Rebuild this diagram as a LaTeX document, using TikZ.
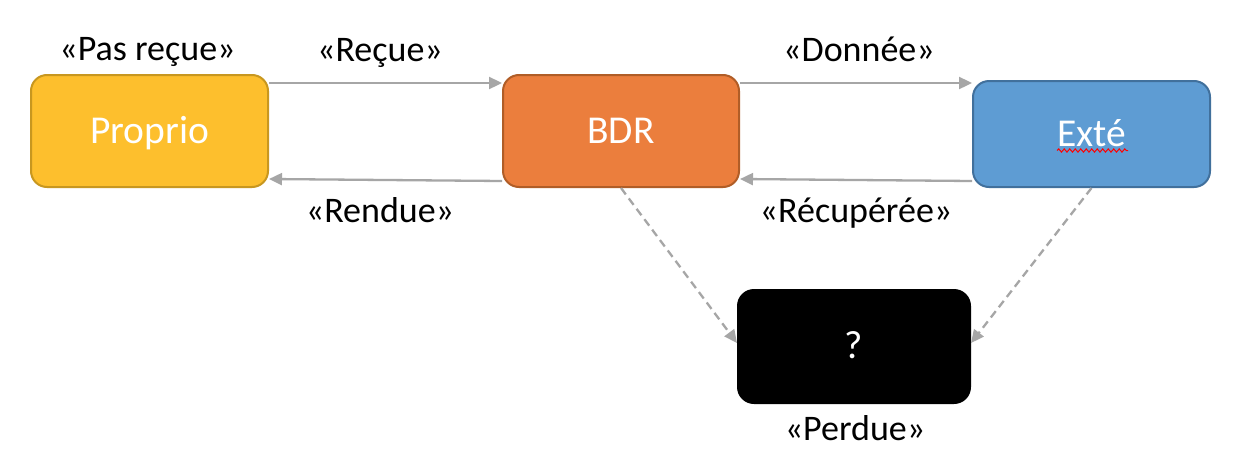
\documentclass[tikz,border=0pt]{standalone}
\usepackage{fontspec}
\setmainfont{Carlito}
\usetikzlibrary{arrows.meta,decorations.pathmorphing}
\definecolor{goldfill}{HTML}{FDBF2D}
\definecolor{golddraw}{HTML}{C8971F}
\definecolor{orangefill}{HTML}{EB7E3D}
\definecolor{orangedraw}{HTML}{B05D27}
\definecolor{bluefill}{HTML}{5E9CD3}
\definecolor{bluedraw}{HTML}{41709C}
\definecolor{arrowgray}{HTML}{A6A6A6}
\begin{document}
\begin{tikzpicture}[x=1pt,y=-1pt,
  box/.style={draw, line width=2pt, rounded corners=16pt, inner sep=0pt,
    text=white, font=\fontsize{39.5}{44}\selectfont, text height=26pt, text depth=2pt},
  lbl/.style={anchor=base, inner sep=0pt, font=\fontsize{36}{42}\selectfont, text=black},
  conn/.style={draw=arrowgray, line width=2.3pt, -{Triangle[length=13pt,width=12pt]}},
  dconn/.style={conn, dash pattern=on 8pt off 5pt}]
\useasboundingbox (0,0) rectangle (1244,474);
\fill[white] (0,0) rectangle (1244,474);

\node[box, fill=goldfill, draw=golddraw, minimum width=237pt, minimum height=112pt] (proprio) at (149.5,131) {Proprio};
\node[box, fill=orangefill, draw=orangedraw, minimum width=236pt, minimum height=112pt] (bdr) at (621,131) {BDR};
\node[box, fill=bluefill, draw=bluedraw, minimum width=237pt, minimum height=106pt] (exte) at (1091.5,134) {Exté};
\node[box, fill=black, draw=black, minimum width=232pt, minimum height=113pt] (q) at (854,346.5) {?};

\draw[red, line width=1pt, decorate, decoration={snake, amplitude=1.6pt, segment length=5.5pt}] (1057,150.5) -- (1128,150.5);

\draw[conn] ([yshift=-9pt]proprio.north east) -- ([yshift=-9pt]bdr.north west);
\draw[conn] ([yshift=7pt]bdr.south west) -- ([yshift=9pt]proprio.south east);
\draw[conn] ([yshift=-9pt]bdr.north east) -- ([yshift=-3pt]exte.north west);
\draw[conn] ([yshift=7pt]exte.south west) -- ([yshift=9pt]bdr.south east);
\draw[dconn] (bdr.south) -- ([yshift=3.5pt]q.west);
\draw[dconn] (exte.south) -- ([yshift=3.5pt]q.east);

\node[lbl] (lpas) at (147.5,60) {«Pas reçue»};
\node[lbl] (lrecue) at (380,61) {«Reçue»};
\node[lbl] (ldonnee) at (859,61) {«Donnée»};
\node[lbl] (lrendue) at (380,222) {«Rendue»};
\node[lbl] (lrecup) at (856,222) {«Récupérée»};
\node[lbl] (lperdue) at (855,440) {«Perdue»};
\end{tikzpicture}
\end{document}
